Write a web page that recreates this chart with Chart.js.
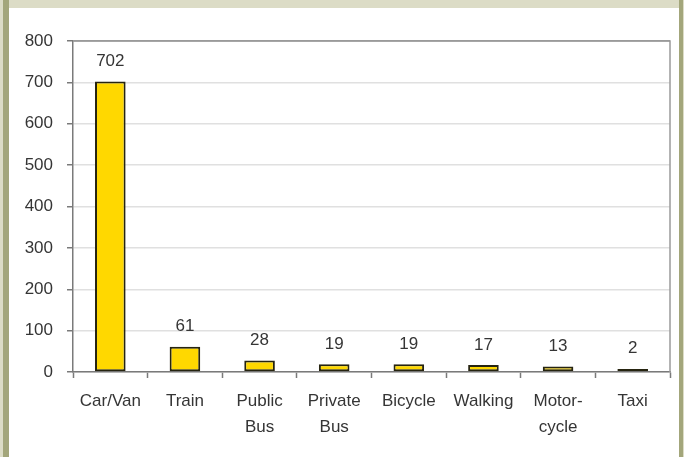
<!DOCTYPE html>
<html>
<head>
<meta charset="utf-8">
<script src="https://cdn.jsdelivr.net/npm/chart.js@4/dist/chart.umd.min.js"></script>
<style>
  html, body { margin: 0; padding: 0; background: #fff; }
  #wrap { position: relative; width: 684px; height: 457px; overflow: hidden; background: #fff; }
  #chart { position: absolute; left: 0; top: 0; }
  .strip { position: absolute; }
</style>
</head>
<body>
<div id="wrap">
  <canvas id="chart" width="684" height="457"></canvas>
  <div class="strip" style="left:0;top:0;width:684px;height:8px;background:#dcdcc6"></div>
  <div class="strip" style="left:0;top:0;width:3px;height:457px;background:#dcdcc6"></div>
  <div class="strip" style="left:3px;top:0;width:6px;height:457px;background:#a3a67b"></div>
  <div class="strip" style="left:679px;top:0;width:4px;height:457px;background:#a3a67b"></div>
  <div class="strip" style="left:683px;top:0;width:1px;height:457px;background:#dcdcc6"></div>
</div>
<script>
const categories = ['Car/Van', 'Train', ['Public', 'Bus'], ['Private', 'Bus'], 'Bicycle', 'Walking', ['Motor-', 'cycle'], 'Taxi']
const trips = [702, 61, 28, 19, 19, 17, 13, 2]
const yTicks = [0, 100, 200, 300, 400, 500, 600, 700, 800]

const textColor = '#353535'
const fontFamily = '"Liberation Sans", Arial, sans-serif'

// value labels above each bar
const barLabels = {
    id: 'barLabels',
    afterDatasetsDraw(chart) {
        const ctx = chart.ctx
        const meta = chart.getDatasetMeta(0)
        ctx.save()
        ctx.font = `17px ${fontFamily}`
        ctx.fillStyle = textColor
        ctx.textAlign = 'center'
        ctx.textBaseline = 'middle'
        meta.data.forEach((bar, i) => {
            ctx.fillText(String(trips[i]), bar.x, Math.min(bar.y, bar.base - 3) - 20)
        })
        ctx.restore()
    }
}

// gray frame on the top and right of the plot area
const plotFrame = {
    id: 'plotFrame',
    beforeDatasetsDraw(chart) {
        const {ctx, chartArea} = chart
        ctx.save()
        ctx.strokeStyle = '#9a9a9a'
        ctx.lineWidth = 1.5
        ctx.beginPath()
        ctx.moveTo(chartArea.left, chartArea.top)
        ctx.lineTo(chartArea.right, chartArea.top)
        ctx.lineTo(chartArea.right, chartArea.bottom)
        ctx.stroke()
        ctx.restore()
    }
}

new Chart(document.getElementById('chart'), {
    type: 'bar',
    data: {
        labels: categories,
        datasets: [{
            data: trips,
            backgroundColor: '#ffd800',
            borderColor: '#262410',
            borderWidth: 2,
            borderSkipped: false,
            minBarLength: 3,
            barPercentage: 0.41,
            categoryPercentage: 1
        }]
    },
    options: {
        responsive: false,
        animation: false,
        layout: {
            padding: {left: 0, top: 41, right: 14, bottom: 0}
        },
        plugins: {
            legend: {display: false},
            tooltip: {enabled: false}
        },
        scales: {
            x: {
                offset: true,
                grid: {
                    offset: true,
                    drawOnChartArea: false,
                    tickLength: 6,
                    tickColor: '#7a7a7a',
                    tickWidth: 1.5
                },
                border: {color: '#7a7a7a', width: 1.5},
                ticks: {
                    color: textColor,
                    padding: 10,
                    maxRotation: 0,
                    autoSkip: false,
                    font: {family: fontFamily, size: 17, lineHeight: 1.53}
                },
                afterFit(scale) {
                    scale.height = 85
                }
            },
            y: {
                min: 0,
                max: 800,
                afterBuildTicks(scale) {
                    scale.ticks = yTicks.map(v => ({value: v}))
                },
                grid: {
                    color: (c) => c.tick && c.tick.value === 800 ? '#9a9a9a' : '#e0e0e0',
                    lineWidth: 1.5,
                    tickLength: 6,
                    tickColor: '#7a7a7a',
                    tickWidth: 1.5
                },
                border: {color: '#7a7a7a', width: 1.5},
                ticks: {
                    color: textColor,
                    padding: 14,
                    font: {family: fontFamily, size: 17}
                },
                afterFit(scale) {
                    scale.width = 73
                }
            }
        }
    },
    plugins: [barLabels, plotFrame]
})
</script>
</body>
</html>
